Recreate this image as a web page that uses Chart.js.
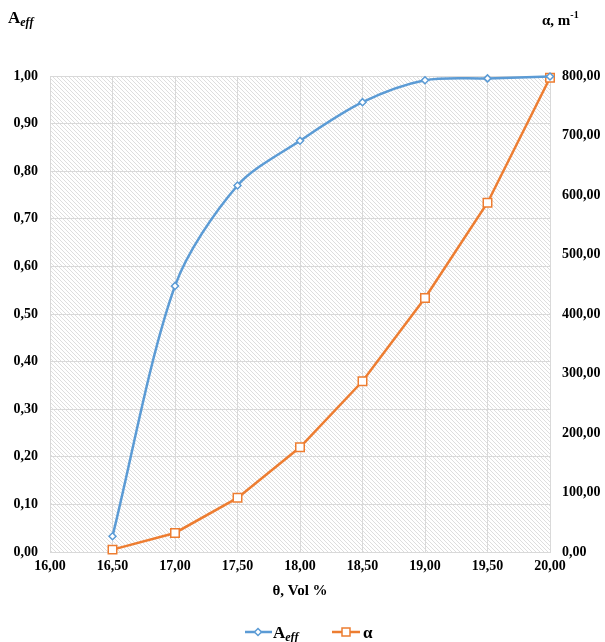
<!DOCTYPE html>
<html>
<head>
<meta charset="utf-8">
<script src="https://cdn.jsdelivr.net/npm/chart.js@4.4.1/dist/chart.umd.min.js"></script>
<style>
html, body { margin: 0; padding: 0; background: #fff; }
</style>
</head>
<body>
<canvas id="myChart" width="605" height="642"></canvas>
<script>
// datos
const theta = [16.5, 17.0, 17.5, 18.0, 18.5, 19.0, 19.5, 20.0];
const aeff = [0.033, 0.559, 0.770, 0.864, 0.945, 0.991, 0.995, 0.999];
const alpha = [4, 32, 91, 176, 287, 427, 587, 797];

const BLUE = '#5b9bd5';
const ORANGE = '#ed7d31';
const FONT = '"Liberation Serif", "Times New Roman", serif';

function fmt(v) {
    return Number(v).toFixed(2).replace('.', ',');
}

// fondo rayado del area del grafico
const hatch = {
    id: 'hatch',
    beforeDraw(chart) {
        const { ctx, chartArea: a } = chart;
        const p = document.createElement('canvas');
        p.width = 4; p.height = 4;
        const pc = p.getContext('2d');
        pc.strokeStyle = '#dedede';
        pc.lineWidth = 1;
        pc.beginPath();
        pc.moveTo(-1, -1); pc.lineTo(5, 5);
        pc.moveTo(-1, 3); pc.lineTo(1, 5);
        pc.moveTo(3, -1); pc.lineTo(5, 1);
        pc.stroke();
        ctx.save();
        ctx.fillStyle = '#fff';
        ctx.fillRect(0, 0, chart.width, chart.height);
        ctx.fillStyle = ctx.createPattern(p, 'repeat');
        ctx.fillRect(a.left, a.top, a.right - a.left, a.bottom - a.top);
        ctx.restore();
    }
};

// titulos de ejes y leyenda
const extras = {
    id: 'extras',
    afterDraw(chart) {
        const ctx = chart.ctx;
        ctx.save();
        ctx.fillStyle = '#000';
        ctx.textBaseline = 'alphabetic';
        ctx.textAlign = 'left';

        // A_eff arriba a la izquierda
        ctx.font = 'bold 17px ' + FONT;
        ctx.fillText('A', 8, 23);
        let w = ctx.measureText('A').width;
        ctx.font = 'italic bold 12px ' + FONT;
        ctx.fillText('eff', 8 + w, 26);

        // alfa, m-1 arriba a la derecha
        ctx.font = 'bold 15px ' + FONT;
        ctx.fillText('α, m', 542, 25);
        w = ctx.measureText('α, m').width;
        ctx.font = 'bold 10px ' + FONT;
        ctx.fillText('-1', 542 + w, 18);

        // leyenda
        const ly = 632;
        ctx.lineWidth = 2.5;
        ctx.strokeStyle = BLUE;
        ctx.beginPath(); ctx.moveTo(245, ly); ctx.lineTo(272, ly); ctx.stroke();
        ctx.lineWidth = 1.5;
        ctx.fillStyle = '#fff';
        ctx.beginPath();
        ctx.moveTo(258, ly - 3.5); ctx.lineTo(261.5, ly); ctx.lineTo(258, ly + 3.5); ctx.lineTo(254.5, ly);
        ctx.closePath(); ctx.fill(); ctx.stroke();

        ctx.fillStyle = '#000';
        ctx.font = 'bold 17px ' + FONT;
        ctx.fillText('A', 273, 638);
        w = ctx.measureText('A').width;
        ctx.font = 'italic bold 12px ' + FONT;
        ctx.fillText('eff', 273 + w, 641);

        ctx.lineWidth = 2.5;
        ctx.strokeStyle = ORANGE;
        ctx.beginPath(); ctx.moveTo(332, ly); ctx.lineTo(360, ly); ctx.stroke();
        ctx.lineWidth = 1.5;
        ctx.fillStyle = '#fff';
        ctx.fillRect(342, ly - 4, 8, 8);
        ctx.strokeRect(342, ly - 4, 8, 8);

        ctx.fillStyle = '#000';
        ctx.font = 'bold 17px ' + FONT;
        ctx.fillText('α', 363, 638);
        ctx.restore();
    }
};

const ctx = document.getElementById('myChart').getContext('2d');
const myChart = new Chart(ctx, {
    type: 'line',
    data: {
        datasets: [{
            label: 'Aeff',
            data: theta.map((t, i) => ({ x: t, y: aeff[i] })),
            yAxisID: 'y',
            borderColor: BLUE,
            borderWidth: 2.5,
            backgroundColor: '#fff',
            pointStyle: 'rectRot',
            pointRadius: 3.5,
            pointBorderWidth: 1.5,
            pointBorderColor: BLUE,
            pointBackgroundColor: '#fff',
            tension: 0.3,
            clip: false
        }, {
            label: 'α',
            data: theta.map((t, i) => ({ x: t, y: alpha[i] })),
            yAxisID: 'y2',
            borderColor: ORANGE,
            borderWidth: 2.5,
            backgroundColor: '#fff',
            pointStyle: 'rect',
            pointRadius: 6,
            pointBorderWidth: 1.5,
            pointBorderColor: ORANGE,
            pointBackgroundColor: '#fff',
            tension: 0,
            clip: false
        }]
    },
    options: {
        responsive: false,
        animation: false,
        layout: { padding: { top: 76, bottom: 30, left: 0, right: 0 } },
        plugins: {
            legend: { display: false },
            tooltip: { enabled: false }
        },
        scales: {
            x: {
                type: 'linear',
                min: 16, max: 20,
                afterFit: s => { s.height = 60; },
                grid: { color: '#d9d9d9', drawTicks: false },
                border: { color: '#d9d9d9' },
                ticks: {
                    stepSize: 0.5,
                    padding: 6,
                    color: '#000',
                    font: { family: FONT, size: 14, weight: 'bold' },
                    callback: v => fmt(v)
                },
                title: {
                    display: true,
                    text: 'θ, Vol %',
                    color: '#000',
                    padding: { top: 0, bottom: 12 },
                    font: { family: FONT, size: 15, weight: 'bold' }
                }
            },
            y: {
                position: 'left',
                min: 0, max: 1,
                afterFit: s => { s.width = 50; },
                grid: { color: '#d9d9d9', drawTicks: false },
                border: { color: '#d9d9d9' },
                ticks: {
                    stepSize: 0.1,
                    padding: 12,
                    color: '#000',
                    font: { family: FONT, size: 14, weight: 'bold' },
                    callback: v => fmt(v)
                }
            },
            y2: {
                position: 'right',
                min: 0, max: 800,
                afterFit: s => { s.width = 55; },
                grid: { display: false, drawTicks: false },
                border: { color: '#d9d9d9' },
                ticks: {
                    stepSize: 100,
                    padding: 12,
                    color: '#000',
                    font: { family: FONT, size: 14, weight: 'bold' },
                    callback: v => fmt(v)
                }
            }
        }
    },
    plugins: [hatch, extras]
});
</script>
</body>
</html>
